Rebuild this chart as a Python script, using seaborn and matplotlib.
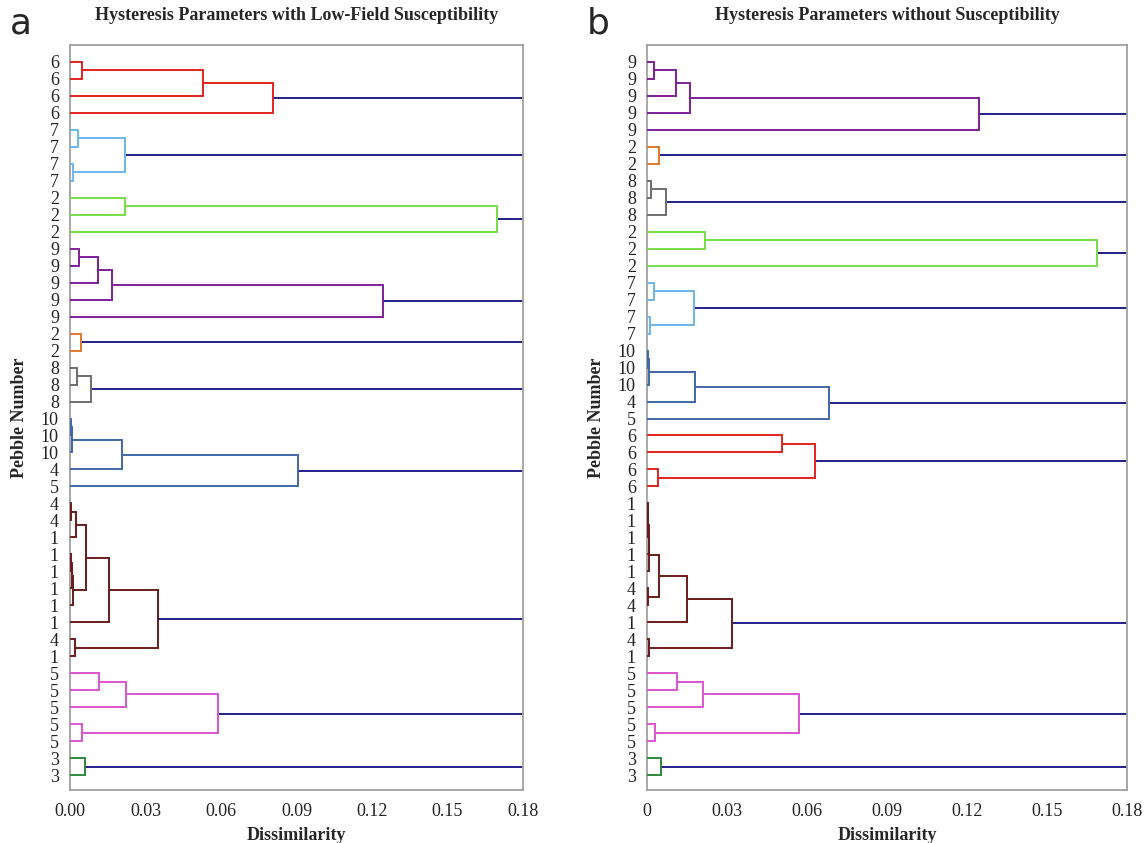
import matplotlib
matplotlib.use("Agg")
import matplotlib.pyplot as plt
import seaborn as sns

# ---------------- data ----------------
title_a = "Hysteresis Parameters with Low-Field Susceptibility"
title_b = "Hysteresis Parameters without Susceptibility"
x_ticks = [0.0, 0.03, 0.06, 0.09, 0.12, 0.15, 0.18]
x_ticklabels_a = ["0.00", "0.03", "0.06", "0.09", "0.12", "0.15", "0.18"]
x_ticklabels_b = ["0", "0.03", "0.06", "0.09", "0.12", "0.15", "0.18"]

# panel a: leaf labels (top to bottom), cluster sizes, cluster colours, merges
labels_a = ["6", "6", "6", "6", "7", "7", "7", "7", "2", "2", "2",
            "9", "9", "9", "9", "9", "2", "2", "8", "8", "8",
            "10", "10", "10", "4", "5",
            "4", "4", "1", "1", "1", "1", "1", "1", "4", "1",
            "5", "5", "5", "5", "5", "3", "3"]
sizes_a = [4, 4, 3, 5, 2, 3, 5, 10, 5, 2]
colors_a = ["#E3221E", "#6DB6EE", "#78DC48", "#7D1F98", "#E0782C",
            "#6E6E6E", "#3F68A6", "#6A1B1B", "#DE55CF", "#2E8A3C"]
# merges per cluster: (child, child, dissimilarity); local leaves 0..n-1, node n+k = k-th merge
merges_a = [
    [(0, 1, 0.0049), (4, 2, 0.0529), (5, 3, 0.0805)],
    [(0, 1, 0.0033), (2, 3, 0.0012), (4, 5, 0.0220)],
    [(0, 1, 0.0220), (3, 2, 0.1697)],
    [(0, 1, 0.0036), (5, 2, 0.0112), (6, 3, 0.0165), (7, 4, 0.1243)],
    [(0, 1, 0.0045)],
    [(0, 1, 0.0027), (3, 2, 0.0082)],
    [(0, 1, 0.0004), (5, 2, 0.0009), (6, 3, 0.0205), (7, 4, 0.0904)],
    [(0, 1, 0.0004), (10, 2, 0.0023), (3, 4, 0.0003), (12, 5, 0.0006),
     (13, 6, 0.0010), (11, 14, 0.0063), (15, 7, 0.0155), (8, 9, 0.0021),
     (16, 17, 0.0349)],
    [(0, 1, 0.0115), (5, 2, 0.0222), (3, 4, 0.0048), (6, 7, 0.0590)],
    [(0, 1, 0.0061)],
]

# panel b
labels_b = ["9", "9", "9", "9", "9", "2", "2", "8", "8", "8",
            "2", "2", "2", "7", "7", "7", "7",
            "10", "10", "10", "4", "5", "6", "6", "6", "6",
            "1", "1", "1", "1", "1", "4", "4", "1", "4", "1",
            "5", "5", "5", "5", "5", "3", "3"]
sizes_b = [5, 2, 3, 3, 4, 5, 4, 10, 5, 2]
colors_b = ["#7D1F98", "#E0782C", "#6E6E6E", "#78DC48", "#6DB6EE",
            "#3F68A6", "#E3221E", "#6A1B1B", "#DE55CF", "#2E8A3C"]
merges_b = [
    [(0, 1, 0.0025), (5, 2, 0.0110), (6, 3, 0.0163), (7, 4, 0.1245)],
    [(0, 1, 0.0044)],
    [(0, 1, 0.0014), (3, 2, 0.0073)],
    [(0, 1, 0.0219), (3, 2, 0.1689)],
    [(0, 1, 0.0025), (2, 3, 0.0011), (4, 5, 0.0176)],
    [(0, 1, 0.0004), (5, 2, 0.0009), (6, 3, 0.0179), (7, 4, 0.0684)],
    [(0, 1, 0.0506), (2, 3, 0.0043), (4, 5, 0.0629)],
    [(0, 1, 0.0002), (10, 2, 0.0004), (11, 3, 0.0006), (12, 4, 0.0008),
     (5, 6, 0.0003), (13, 14, 0.0046), (15, 7, 0.0151), (8, 9, 0.0009),
     (16, 17, 0.0320)],
    [(0, 1, 0.0113), (5, 2, 0.0209), (3, 4, 0.0031), (6, 7, 0.0570)],
    [(0, 1, 0.0054)],
]

link_color = "#1F1F8A"

# ---------------- style ----------------
sns.set_theme(style="white")
plt.rcParams["font.family"] = ["Liberation Serif", "DejaVu Serif"]
SERIF = ["Liberation Serif", "DejaVu Serif"]

fig = plt.figure(figsize=(11.45, 8.43), dpi=100)
ax_a = fig.add_axes([70 / 1145, 53 / 843, 453 / 1145, 745 / 843])
ax_b = fig.add_axes([647 / 1145, 53 / 843, 480 / 1145, 745 / 843])


def draw_panel(ax, labels, sizes, colors, merges, ticklabels, title):
    start = 0
    for n, col, mlist in zip(sizes, colors, merges):
        pos = {i: (start + i, 0.0) for i in range(n)}
        for k, (c1, c2, h) in enumerate(mlist):
            y1, h1 = pos[c1]
            y2, h2 = pos[c2]
            ax.plot([h1, h, h, h2], [y1, y1, y2, y2], color=col, lw=1.4,
                    solid_joinstyle="miter", zorder=3)
            pos[n + k] = ((y1 + y2) / 2.0, h)
        root_y, root_h = pos[n + len(mlist) - 1]
        ax.plot([root_h, 0.25], [root_y, root_y], color=link_color, lw=1.4, zorder=2)
        start += n

    ax.set_xlim(0, 0.18)
    ax.set_ylim(len(labels) - 1 + 0.88, -1.0)
    ax.set_yticks(range(len(labels)))
    ax.set_yticklabels(labels, fontsize=13, family=SERIF)
    ax.set_xticks(x_ticks)
    ax.set_xticklabels(ticklabels, fontsize=13, family=SERIF)
    ax.tick_params(axis="y", length=0, pad=8, colors="#222222")
    ax.tick_params(axis="x", direction="inout", length=9, width=1.0,
                   color="#999999", pad=5, labelcolor="#222222")
    for s in ax.spines.values():
        s.set_color("#A0A0A0")
        s.set_linewidth(1.3)
    ax.set_xlabel("Dissimilarity", fontsize=13, fontweight="bold", family=SERIF,
                  labelpad=5)
    ax.set_ylabel("Pebble Number", fontsize=13, fontweight="bold", family=SERIF,
                  labelpad=9)
    ax.set_title(title, fontsize=13, fontweight="bold", family=SERIF, pad=18)
    ax.grid(False)


draw_panel(ax_a, labels_a, sizes_a, colors_a, merges_a, x_ticklabels_a, title_a)
draw_panel(ax_b, labels_b, sizes_b, colors_b, merges_b, x_ticklabels_b, title_b)

fig.text(10 / 1145, 1 - 23 / 843, "a", fontsize=26, family="DejaVu Sans",
         va="center", ha="left")
fig.text(587 / 1145, 1 - 23 / 843, "b", fontsize=26, family="DejaVu Sans",
         va="center", ha="left")

fig.savefig("out.png", dpi=100, facecolor="white")
